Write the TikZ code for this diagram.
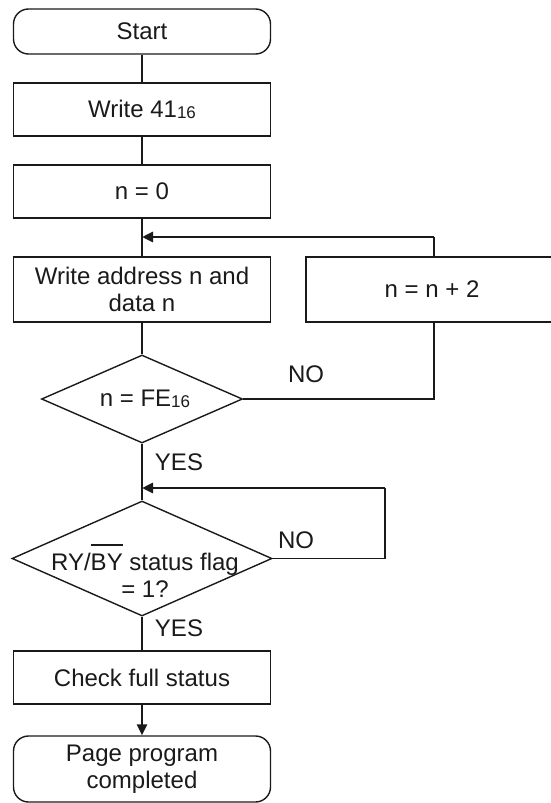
\documentclass[tikz,border=0pt]{standalone}
\usepackage{fontspec}
\setmainfont{Liberation Sans}
\usetikzlibrary{shapes.geometric,arrows.meta}
\definecolor{ink}{HTML}{1A1A1A}
% small "16" used for hexadecimal numbers
\newcommand{\hexsub}[1]{{\fontsize{17}{17}\selectfont\raisebox{-0.8pt}{#1}}}
% text with a bar drawn over it (active-low signal names)
\newcommand{\barred}[1]{\setbox0=\hbox{#1}\rlap{\rule[\dimexpr\ht0+8pt\relax]{\wd0}{1.6pt}}\box0\relax}

\begin{document}
\begin{tikzpicture}[x=1pt,y=-1pt,
  every node/.style={font=\fontsize{24}{27.5}\selectfont, text=ink},
  box/.style={draw=ink, line width=1.4pt, rectangle, inner sep=0pt,
    minimum width=257pt, minimum height=53pt, align=center},
  terminal/.style={box, rounded corners=15pt},
  decision/.style={draw=ink, line width=1.4pt, diamond, inner sep=0pt},
  flow/.style={draw=ink, line width=1.4pt},
  loopback/.style={draw=ink, line width=2.8pt, -{Triangle[length=11pt,width=10pt]}},
  tag/.style={inner sep=0pt}
]
\useasboundingbox (0,0) rectangle (551,803);

% process steps
\node[terminal, minimum height=45pt] (start) at (142,31.5) {Start};
\node[box] (w41) at (142,109.5) {Write 41\hexsub{16}};
\node[box] (n0) at (142,191.5) {n = 0};
\node[box, minimum height=65pt] (wad) at (142,289.5) {Write address n and\\data n};
\node[box, minimum width=256pt, minimum height=65pt] (inc) at (434,289.5) {};
\node at (432,289.5) {n = n + 2};

% decisions
\node[decision, minimum width=201pt, minimum height=88pt] (d1) at (142,399) {};
\node at (145,399) {n = FE\hexsub{16}};
\node[decision, minimum width=260pt, minimum height=115pt] (d2) at (142,558.5) {};
\node[align=center] at (145,571) {RY/\barred{BY} status flag\\= 1?};

\node[box] (check) at (142,677.5) {Check full status};
\node[terminal, minimum height=66pt] (done) at (142,769) {Page program\\completed};

% joints where the loops re-enter the main line
\coordinate (j1) at (142,237);
\coordinate (c1) at (434,237);
\coordinate (j2) at (142,488);
\coordinate (c2) at (385,488);

% main flow
\draw[flow] (start.south) -- (w41.north);
\draw[flow] (w41.south) -- (n0.north);
\draw[flow] (n0.south) -- (wad.north);
\draw[flow] (wad.south) -- (d1.north);
\draw[flow] (d1.south) -- (d2.north);
\draw[flow] (d2.south) -- (check.north);
\draw[loopback] (check.south) -- (done.north);

% address loop
\draw[flow] (d1.east) -| (inc.south);
\draw[flow] (inc.north) -- (c1);
\draw[loopback] (c1) -- (j1);

% status polling loop
\draw[flow] (d2.east) -| (c2);
\draw[loopback] (c2) -- (j2);

% branch labels
\node[tag] (no1) at (306,374) {NO};
\node[tag] (yes1) at (179,462) {YES};
\node[tag] (no2) at (296,540) {NO};
\node[tag] (yes2) at (179,628) {YES};
\end{tikzpicture}
\end{document}
